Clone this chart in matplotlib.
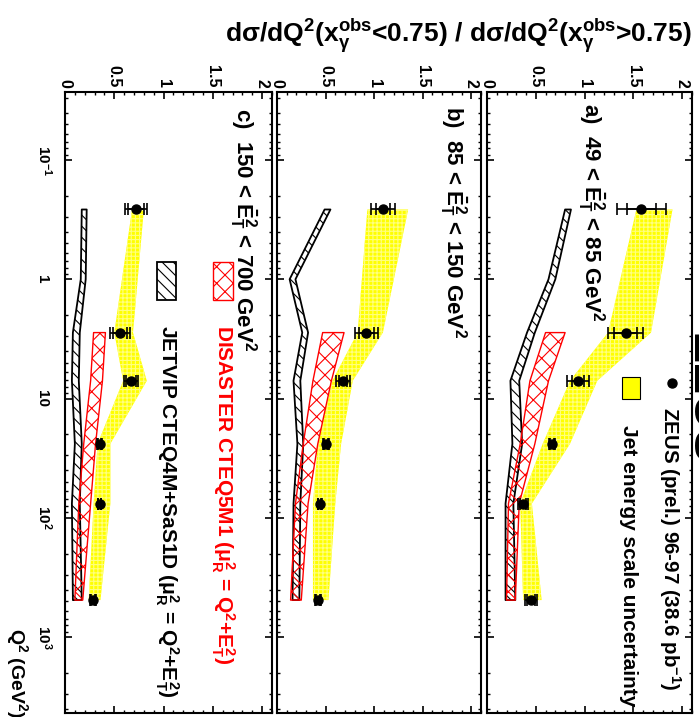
import numpy as np
import matplotlib
matplotlib.use('Agg')
import matplotlib.pyplot as plt
import matplotlib.transforms as mtransforms
from matplotlib.ticker import FixedLocator, MultipleLocator, LogLocator, NullFormatter
from matplotlib.patches import Rectangle
from matplotlib import font_manager

# ---------------- data ----------------
q2_data = [0.26, 2.8, 7.1, 24, 76, 490]
q2_jetvip = [0.26, 1.0, 2.8, 7.1, 24, 76, 490]
q2_disaster = [2.8, 7.1, 24, 76, 490]

# panel a) 49 < ET^2 < 85
ratio_a = [1.58, 1.42, 0.93, 0.67, 0.37, 0.45]
stat_a = [0.15, 0.12, 0.06, 0.02, 0.03, 0.04]
tot_a = [0.25, 0.18, 0.11, 0.03, 0.05, 0.06]
jes_lo_a = [1.53, 1.24, 0.85, 0.57, 0.34, 0.37]
jes_hi_a = [1.90, 1.68, 1.13, 0.85, 0.46, 0.56]
jv_lo_a = [0.80, 0.63, 0.41, 0.24, 0.26, 0.19, 0.19]
jv_hi_a = [0.86, 0.70, 0.49, 0.33, 0.36, 0.27, 0.29]
ds_lo_a = [0.60, 0.44, 0.34, 0.22, 0.20]
ds_hi_a = [0.80, 0.63, 0.49, 0.33, 0.29]

# panel b) 85 < ET^2 < 150
ratio_b = [1.09, 0.92, 0.68, 0.505, 0.44, 0.42]
stat_b = [0.07, 0.08, 0.04, 0.02, 0.015, 0.02]
tot_b = [0.12, 0.12, 0.07, 0.03, 0.02, 0.03]
jes_lo_b = [0.93, 0.83, 0.57, 0.42, 0.37, 0.37]
jes_hi_b = [1.35, 1.09, 0.78, 0.66, 0.60, 0.53]
jv_lo_b = [0.49, 0.13, 0.26, 0.17, 0.21, 0.17, 0.16]
jv_hi_b = [0.55, 0.19, 0.32, 0.24, 0.27, 0.24, 0.23]
ds_lo_b = [0.47, 0.37, 0.27, 0.19, 0.14]
ds_hi_b = [0.69, 0.56, 0.42, 0.32, 0.25]

# panel c) 150 < ET^2 < 700
ratio_c = [0.72, 0.56, 0.67, 0.35, 0.35, 0.28]
stat_c = [0.08, 0.07, 0.05, 0.015, 0.015, 0.02]
tot_c = [0.115, 0.10, 0.075, 0.025, 0.02, 0.03]
jes_lo_c = [0.68, 0.50, 0.59, 0.33, 0.29, 0.24]
jes_hi_c = [0.80, 0.69, 0.83, 0.46, 0.46, 0.36]
jv_lo_c = [0.17, 0.16, 0.08, 0.07, 0.10, 0.07, 0.08]
jv_hi_c = [0.22, 0.21, 0.15, 0.14, 0.17, 0.15, 0.17]
ds_lo_c = [0.29, 0.26, 0.19, 0.14, 0.10]
ds_hi_c = [0.41, 0.38, 0.31, 0.26, 0.18]

ratio_ticks = [0, 0.5, 1, 1.5, 2]
ratio_ticklabels = ['0', '0.5', '1', '1.5', '2']
q2_ticks = [0.1, 1, 10, 100, 1000]
q2_ticklabels = ['$10^{-1}$', '1', '10', '$10^{2}$', '$10^{3}$']

panel_labels = [r'a)  49 < $\bar{E}^{2}_{T}$ < 85 GeV$^{2}$',
                r'b)  85 < $\bar{E}^{2}_{T}$ < 150 GeV$^{2}$',
                r'c)  150 < $\bar{E}^{2}_{T}$ < 700 GeV$^{2}$']

# ---------------- style ----------------
names = {f.name for f in font_manager.fontManager.ttflist}
MAIN = 'Liberation Sans' if 'Liberation Sans' in names else 'DejaVu Sans'
plt.rcParams.update({
    'font.family': [MAIN, 'DejaVu Sans'],
    'font.weight': 'bold',
    'mathtext.fontset': 'custom',
    'mathtext.rm': MAIN + ':bold',
    'mathtext.it': MAIN + ':bold',
    'mathtext.bf': MAIN + ':bold',
    'mathtext.sf': MAIN + ':bold',
    'mathtext.default': 'rm',
    'hatch.linewidth': 0.8,
    'axes.linewidth': 1.5,
})

W, H = 699, 717
fig = plt.figure(figsize=(W / 100, H / 100), dpi=100)
TOP, BOT = 92, 713


def ftext(x, y, s, size=16, color='k', ha='left', va='baseline'):
    fig.text(x / W, 1 - y / H, s, rotation=-90, rotation_mode='anchor',
             ha=ha, va=va, fontsize=size, color=color, fontweight='bold')


def add_panel(x0, x1, ratio, stat, tot, jlo, jhi, vlo, vhi, dlo, dhi):
    ax = fig.add_axes([x0 / W, 1 - BOT / H, (x1 - x0) / W, (BOT - TOP) / H])
    ax.set_xlim(0, 2.1)
    ax.set_yscale('log')
    ax.set_ylim(4335, 0.0269)
    ax.xaxis.set_major_locator(FixedLocator(ratio_ticks))
    ax.xaxis.set_minor_locator(MultipleLocator(0.1))
    ax.set_xticklabels(ratio_ticklabels)
    ax.yaxis.set_major_locator(FixedLocator(q2_ticks))
    ax.yaxis.set_minor_locator(LogLocator(base=10, subs=np.arange(2, 10), numticks=100))
    ax.yaxis.set_minor_formatter(NullFormatter())
    ax.tick_params(axis='x', which='both', direction='in', top=True, bottom=True,
                   labeltop=True, labelbottom=False, labelrotation=-90,
                   labelsize=11.5, pad=3)
    ax.tick_params(axis='y', which='both', direction='in', left=True, right=True,
                   labelleft=False, labelright=False)
    ax.tick_params(which='major', length=5, width=1.2)
    ax.tick_params(which='minor', length=2.5, width=1.0)

    ax.fill_betweenx(q2_data, jlo, jhi, facecolor='#ffff00', edgecolor='#ffff80',
                     hatch='++++', linewidth=0, zorder=1)
    ax.fill_betweenx(q2_jetvip, vlo, vhi, facecolor='none', edgecolor='k',
                     hatch='\\\\\\', linewidth=1.3, zorder=2)
    ax.fill_betweenx(q2_disaster, dlo, dhi, facecolor='none', edgecolor='red',
                     hatch='xx', linewidth=1.0, zorder=3)
    ax.errorbar(ratio, q2_data, xerr=tot, fmt='none', ecolor='k', elinewidth=1.2,
                capsize=4.5, capthick=1.2, zorder=5)
    ax.errorbar(ratio, q2_data, xerr=stat, fmt='o', color='k', ms=6.5, ecolor='k',
                elinewidth=1.2, capsize=4.5, capthick=1.2, zorder=6)
    return ax


ax_c = add_panel(65, 272, ratio_c, stat_c, tot_c, jes_lo_c, jes_hi_c,
                 jv_lo_c, jv_hi_c, ds_lo_c, ds_hi_c)
ax_b = add_panel(277, 481, ratio_b, stat_b, tot_b, jes_lo_b, jes_hi_b,
                 jv_lo_b, jv_hi_b, ds_lo_b, ds_hi_b)
ax_a = add_panel(487, 692, ratio_a, stat_a, tot_a, jes_lo_a, jes_hi_a,
                 jv_lo_a, jv_hi_a, ds_lo_a, ds_hi_a)

# Q2 tick labels on the left of panel c
trans = mtransforms.blended_transform_factory(ax_c.transAxes, ax_c.transData)
for q, lab in zip(q2_ticks, q2_ticklabels):
    ax_c.text(-27 / 207, q, lab, transform=trans, rotation=-90, rotation_mode='anchor',
              ha='center', va='baseline', fontsize=11, fontweight='bold', clip_on=False)

# panel labels
ftext(585, 103, panel_labels[0])
ftext(447, 106, panel_labels[1])
ftext(237, 108, panel_labels[2])

# legend panel a
ax_a.plot([0.902], [0.531], 'o', color='k', ms=6.5, transform=ax_a.transAxes, clip_on=False)
ax_a.add_patch(Rectangle((0.659, 0.506), 0.087, 0.035, transform=ax_a.transAxes,
                         facecolor='#ffff00', edgecolor='k', linewidth=0.8, zorder=4))
ftext(663, 407, 'ZEUS (prel.) 96-97 (38.6 pb$^{-1}$)', size=14.8)
ftext(623, 425, 'Jet energy scale uncertainty', size=15)

# legend panel c
ax_c.add_patch(Rectangle((0.715, 0.665), 0.097, 0.061, transform=ax_c.transAxes,
                         facecolor='none', edgecolor='red', hatch='xx', linewidth=1.0))
ax_c.add_patch(Rectangle((0.444, 0.665), 0.092, 0.061, transform=ax_c.transAxes,
                         facecolor='none', edgecolor='k', hatch='\\\\\\', linewidth=1.3))
ftext(217, 325, r'DISASTER CTEQ5M1 ($\mu^{2}_{R}$ = Q$^{2}$+E$^{2}_{T}$)',
      size=15, color='red')
ftext(161, 325, r'JETVIP CTEQ4M+SaS1D ($\mu^{2}_{R}$ = Q$^{2}$+E$^{2}_{T}$)', size=15)

# axis titles
fig.text(692 / W, 1 - 42 / H,
         r'd$\sigma$/dQ$^{2}$(x$^{obs}_{\gamma}$<0.75) / d$\sigma$/dQ$^{2}$(x$^{obs}_{\gamma}$>0.75)',
         ha='right', va='baseline', fontsize=19, fontweight='bold')
ftext(11, 628, 'Q$^{2}$ (GeV$^{2}$)', size=14)

# partially visible ZEUS logo at the right edge
ftext(693, 333, 'ZEUS', size=35)

fig.savefig('out.png', dpi=100)
